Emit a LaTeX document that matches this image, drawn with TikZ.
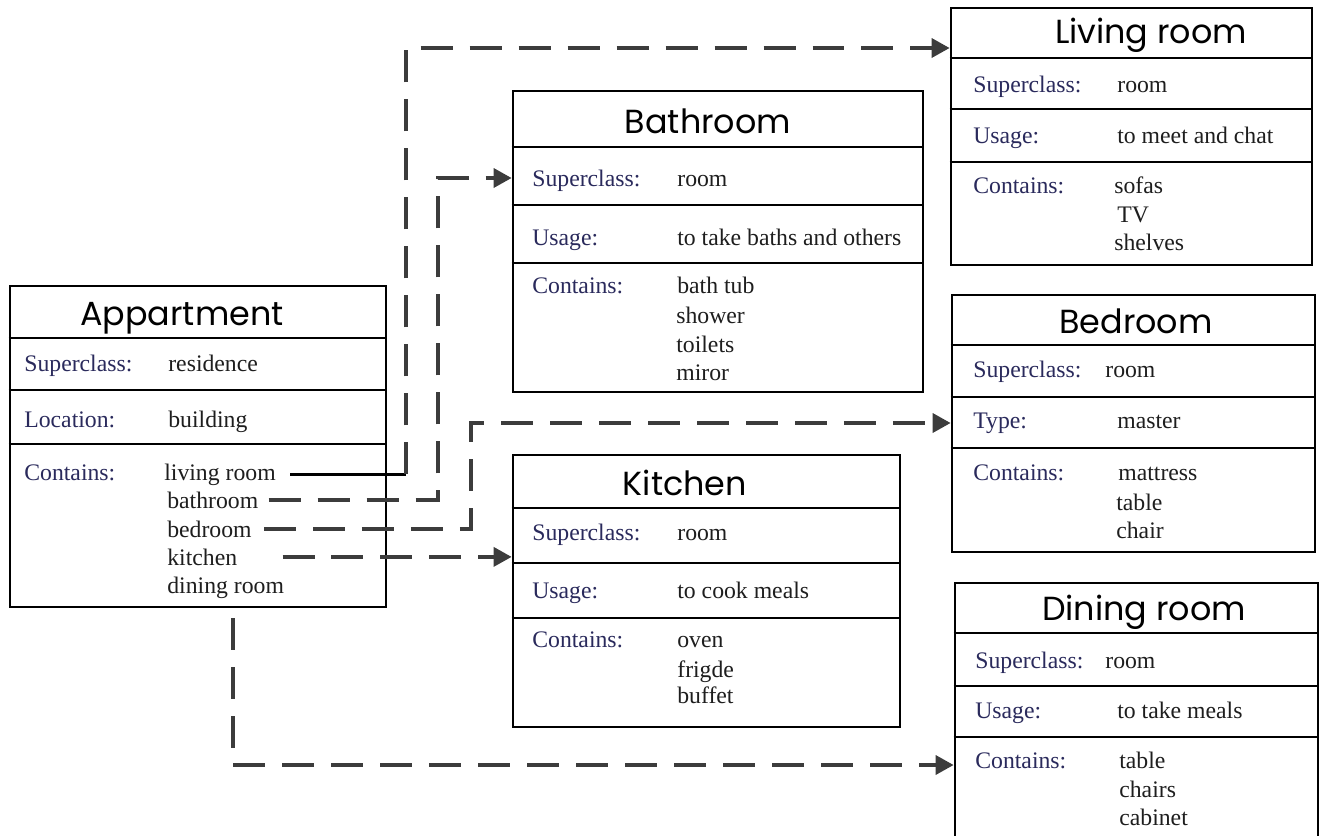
\documentclass[tikz,border=0pt]{standalone}
\usepackage{fontspec}
\setmainfont{Liberation Serif}
\newfontfamily\titlefont{Poppins}
\usetikzlibrary{arrows.meta}

\definecolor{keyblue}{HTML}{2A2A5C}
\definecolor{valgray}{HTML}{1E1E1E}
\definecolor{conngray}{HTML}{3C3C3C}

\tikzset{
  classbox/.style={draw, rectangle, line width=1.6pt, fill=white, inner sep=0pt},
  rowline/.style={line width=1.6pt},
  title/.style={anchor=base, inner sep=0pt, font=\titlefont\fontsize{19}{19}\selectfont},
  key/.style={anchor=base west, inner sep=0pt, text=keyblue, font=\fontsize{13.5}{16}\selectfont},
  val/.style={anchor=base west, inner sep=0pt, text=valgray, font=\fontsize{13.5}{16}\selectfont},
  conn/.style={draw=conngray, line width=2pt, dash pattern=on 0.64cm off 0.34cm,
    -{Triangle[length=0.36cm,width=0.38cm]}},
  link/.style={draw=black, line width=1.8pt}
}

\begin{document}
\begin{tikzpicture}[x=0.02cm, y=-0.02cm]
\useasboundingbox (0,0) rectangle (1320,836);
\clip (0,0) rectangle (1320,836);

% class boxes
\node[classbox, minimum width=7.52cm, minimum height=6.42cm] (apt) at (198,446.5) {};
\node[classbox, minimum width=8.2cm, minimum height=6.02cm] (bath) at (718,241.5) {};
\node[classbox, minimum width=7.22cm, minimum height=5.14cm] (liv) at (1131.5,136.5) {};
\node[classbox, minimum width=7.26cm, minimum height=5.14cm] (bed) at (1133.5,423.5) {};
\node[classbox, minimum width=7.74cm, minimum height=5.44cm] (kit) at (706.5,591) {};
\node[classbox, minimum width=7.26cm, minimum height=6.34cm] (din) at (1136.5,741.5) {};

% rows
\foreach \b/\ya/\yb/\yc in {apt/338/390/444, bath/147/205/263, liv/58/109/162,
                            bed/345/397/448, kit/508/563/618, din/633/686/737}{
  \draw[rowline] (\b.west |- 0,\ya) -- (\b.east |- 0,\ya);
  \draw[rowline] (\b.west |- 0,\yb) -- (\b.east |- 0,\yb);
  \draw[rowline] (\b.west |- 0,\yc) -- (\b.east |- 0,\yc);
}

% titles
\node[title] (aptT) at (182,325) {Appartment};
\node[title] (bathT) at (708,133) {Bathroom};
\node[title] (livT) at (1151,43) {Living room};
\node[title] (bedT) at (1136,333) {Bedroom};
\node[title] (kitT) at (685,495) {Kitchen};
\node[title] (dinT) at (1144,620) {Dining room};

% Appartment
\node[key] (aptK1) at (24,371) {Superclass:};
\node[val] (aptV1) at (168,371) {residence};
\node[key] (aptK2) at (24,427) {Location:};
\node[val] (aptV2) at (168,427) {building};
\node[key] (aptK3) at (24,480) {Contains:};
\node[val] (aLiv) at (164,480) {living room};
\node[val] (aBath) at (167,508) {bathroom};
\node[val] (aBed) at (167,537) {bedroom};
\node[val] (aKit) at (167,565) {kitchen};
\node[val] (aDin) at (167,593) {dining room};

% Bathroom
\node[key] (bathK1) at (532,186) {Superclass:};
\node[val] (bathV1) at (677,186) {room};
\node[key] (bathK2) at (532,245) {Usage:};
\node[val] (bathV2) at (677,245) {to take baths and others};
\node[key] (bathK3) at (532,293) {Contains:};
\node[val] (bathL1) at (677,293) {bath tub};
\node[val] (bathL2) at (676,323) {shower};
\node[val] (bathL3) at (676,352) {toilets};
\node[val] (bathL4) at (676,380) {miror};

% Living room
\node[key] (livK1) at (973,92) {Superclass:};
\node[val] (livV1) at (1117,92) {room};
\node[key] (livK2) at (973,143) {Usage:};
\node[val] (livV2) at (1117,143) {to meet and chat};
\node[key] (livK3) at (973,193) {Contains:};
\node[val] (livL1) at (1114,193) {sofas};
\node[val] (livL2) at (1117,222) {TV};
\node[val] (livL3) at (1114,250) {shelves};

% Bedroom
\node[key] (bedK1) at (973,377) {Superclass:};
\node[val] (bedV1) at (1105,377) {room};
\node[key] (bedK2) at (973,428) {Type:};
\node[val] (bedV2) at (1117,428) {master};
\node[key] (bedK3) at (973,480) {Contains:};
\node[val] (bedL1) at (1118,480) {mattress};
\node[val] (bedL2) at (1116,510) {table};
\node[val] (bedL3) at (1116,538) {chair};

% Kitchen
\node[key] (kitK1) at (532,540) {Superclass:};
\node[val] (kitV1) at (677,540) {room};
\node[key] (kitK2) at (532,598) {Usage:};
\node[val] (kitV2) at (677,598) {to cook meals};
\node[key] (kitK3) at (532,647) {Contains:};
\node[val] (kitL1) at (677,647) {oven};
\node[val] (kitL2) at (677,677) {frigde};
\node[val] (kitL3) at (677,703) {buffet};

% Dining room
\node[key] (dinK1) at (975,668) {Superclass:};
\node[val] (dinV1) at (1105,668) {room};
\node[key] (dinK2) at (975,718) {Usage:};
\node[val] (dinV2) at (1117,718) {to take meals};
\node[key] (dinK3) at (975,768) {Contains:};
\node[val] (dinL1) at (1119,768) {table};
\node[val] (dinL2) at (1119,797) {chairs};
\node[val] (dinL3) at (1119,825) {cabinet};

% bends
\coordinate (jLiv) at (406,48);
\coordinate (jBath) at (438,178);
\coordinate (jBed) at (471,423);
\coordinate (jDin) at (233,765);

% connectors
\draw[link, shorten <=0.28cm] (aLiv.east) -- (aLiv.east -| jLiv);
\draw[conn] (aLiv.east -| jLiv) -- (jLiv) -- (liv.west |- jLiv);
\draw[conn, shorten <=0.2cm] (aBath.east) -| (jBath) -- (bath.west |- jBath);
\draw[conn, shorten <=0.24cm] (aBed.east) -| (jBed) -- (bed.west |- jBed);
\draw[conn, shorten <=0.9cm] (aKit.east) -- (kit.west |- aKit.east);
\draw[conn, shorten <=0.2cm] (apt.south -| jDin) -- (jDin) -- (din.west |- jDin);
\end{tikzpicture}
\end{document}
